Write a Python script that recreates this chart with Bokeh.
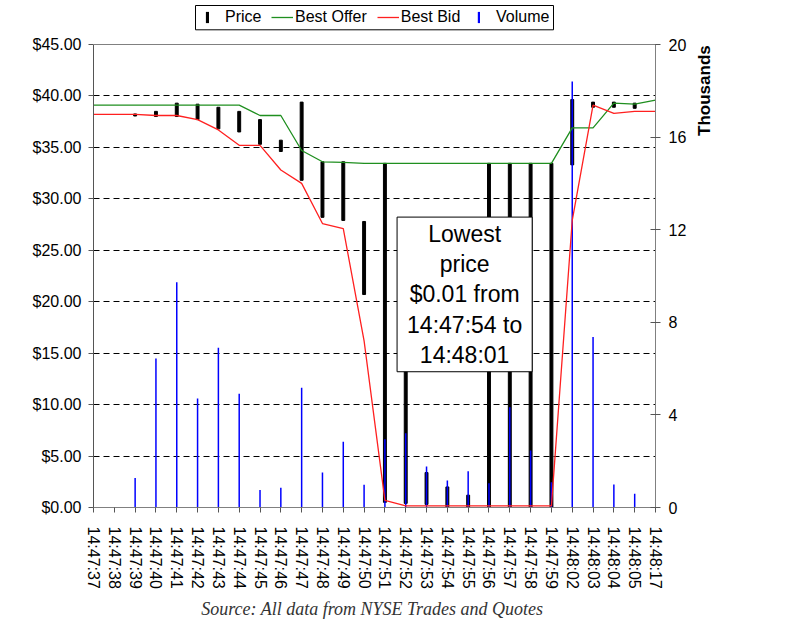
import math
import numpy as np
from bokeh.plotting import figure
from bokeh.models import (Range1d, LinearAxis, FixedTicker, NumeralTickFormatter, Label,
                          Legend, LegendItem, Title, ColumnDataSource, Span, BoxAnnotation)
from bokeh.embed import file_html
from bokeh.resources import INLINE

# ---- data ----
times = ["14:47:37", "14:47:38", "14:47:39", "14:47:40", "14:47:41", "14:47:42", "14:47:43",
         "14:47:44", "14:47:45", "14:47:46", "14:47:47", "14:47:48", "14:47:49", "14:47:50",
         "14:47:51", "14:47:52", "14:47:53", "14:47:54", "14:47:55", "14:47:56", "14:47:57",
         "14:47:58", "14:47:59", "14:48:02", "14:48:03", "14:48:04", "14:48:05", "14:48:17"]
price_high = [None, None, 38.25, 38.5, 39.3, 39.2, 38.9, 38.5, 37.7, 35.7, 39.4, 33.6, 33.6, 27.8,
              33.45, 20.0, 3.4, 2.0, 1.2, 33.45, 33.45, 33.45, 33.45, 39.65, 39.4, 39.4, 39.3, None]
price_low = [None, None, 38.05, 38.0, 38.0, 37.7, 36.8, 36.5, 35.3, 34.6, 31.8, 28.2, 27.9, 20.7,
             0.5, 0.4, 0.3, 0.01, 0.01, 0.01, 0.01, 0.01, 0.01, 33.3, 38.9, 38.9, 38.8, None]
best_offer = [39.1, 39.1, 39.1, 39.1, 39.1, 39.1, 39.1, 39.1, 38.1, 38.1, 34.7, 33.6, 33.55, 33.45,
              33.45, 33.45, 33.45, 33.45, 33.45, 33.45, 33.45, 33.45, 33.45, 36.9, 36.9, 39.3, 39.2, 39.6]
best_bid = [38.2, 38.2, 38.2, 38.1, 38.1, 37.7, 36.7, 35.2, 35.2, 32.8, 31.5, 27.6, 27.1, 16.2,
            0.7, 0.15, 0.15, 0.15, 0.15, 0.15, 0.15, 0.15, 0.15, 27.9, 39.1, 38.3, 38.5, 38.5]
volume_k = [None, None, 1.27, 6.44, 9.73, 4.71, 6.90, 4.91, 0.76, 0.85, 5.17, 1.51, 2.84, 0.98,
            2.95, 3.21, 1.77, 1.17, 1.57, 1.05, 4.33, 2.46, 1.09, 18.4, 7.36, 0.99, 0.59, None]
price_max = 45
volume_max = 20
price_ticks = [0, 5, 10, 15, 20, 25, 30, 35, 40, 45]
grid_ticks = [5, 10, 15, 20, 25, 30, 35, 40]
volume_ticks = [0, 4, 8, 12, 16, 20]
volume_caption = "Thousands"
note_text = "Lowest\nprice\n$0.01 from\n14:47:54 to\n14:48:01"
source_text = "Source:  All data from NYSE Trades and Quotes"

FONT = "Liberation Sans"
x = list(range(len(times)))

# layout (pixels): the frame reaches the top of the canvas so the legend can sit above $45
FRAME_TOP = 0
PLOT_TOP = 44
PLOT_BOTTOM = 507
FRAME_LEFT = 93
FRAME_RIGHT = 655
stretch = (PLOT_BOTTOM - FRAME_TOP) / (PLOT_BOTTOM - PLOT_TOP)
px_per_x = (FRAME_RIGHT - FRAME_LEFT) / (len(times) - 1)
px_per_price = (PLOT_BOTTOM - PLOT_TOP) / price_max


def px_to_x(px):
    return (px - FRAME_LEFT) / px_per_x


def py_to_price(py):
    return (PLOT_BOTTOM - py) / px_per_price


src = ColumnDataSource(dict(
    x=x,
    high=np.array(price_high, dtype=float),
    low=np.array(price_low, dtype=float),
    offer=np.array(best_offer, dtype=float),
    bid=np.array(best_bid, dtype=float),
    vol=np.array(volume_k, dtype=float),
    zero=[0.0] * len(x),
))

p = figure(width=800, height=628, output_backend="svg", toolbar_location=None,
           x_range=Range1d(0, len(times) - 1), y_range=Range1d(0, price_max * stretch),
           min_border_left=FRAME_LEFT, min_border_right=800 - FRAME_RIGHT,
           min_border_top=FRAME_TOP, min_border_bottom=628 - PLOT_BOTTOM)
p.extra_y_ranges = {"vol": Range1d(0, volume_max * stretch)}
p.background_fill_color = "white"
p.border_fill_color = "white"
p.outline_line_color = None

xaxis = p.below[0]
yaxis = p.left[0]

# grid
p.xgrid.visible = False
p.ygrid.ticker = FixedTicker(ticks=grid_ticks)
p.ygrid.grid_line_color = "black"
p.ygrid.grid_line_dash = "6 4"
p.ygrid.grid_line_width = 1

# top border of the plot area
p.add_layout(Span(location=price_max, dimension="width", line_color="#808080", line_width=1))

# left axis
yaxis.ticker = FixedTicker(ticks=price_ticks)
yaxis.bounds = (0, price_max)
yaxis.formatter = NumeralTickFormatter(format="$0.00")
yaxis.axis_line_color = "#555555"
yaxis.major_tick_line_color = "#555555"
yaxis.major_tick_in = 0
yaxis.major_tick_out = 5
yaxis.minor_tick_line_color = None
yaxis.major_label_text_font = FONT
yaxis.major_label_text_font_size = "16px"
yaxis.major_label_text_color = "black"
yaxis.major_label_standoff = 7

# right axis
raxis = LinearAxis(y_range_name="vol", ticker=FixedTicker(ticks=volume_ticks),
                   bounds=(0, volume_max))
raxis.axis_line_color = "#808080"
raxis.major_tick_line_color = "#555555"
raxis.major_tick_in = 5
raxis.major_tick_out = 5
raxis.minor_tick_line_color = None
raxis.major_label_text_font = FONT
raxis.major_label_text_font_size = "16px"
raxis.major_label_text_color = "black"
raxis.major_label_standoff = 8
p.add_layout(raxis, "right")

# caption for the volume axis; it starts at the middle of the axis and reads upwards,
# so non-breaking spaces push the word up towards the top of the axis
cap_axis = LinearAxis(y_range_name="vol", ticker=FixedTicker(ticks=[]),
                      axis_label="\u00a0" * 25 + volume_caption)
cap_axis.axis_line_color = None
cap_axis.major_tick_line_color = None
cap_axis.minor_tick_line_color = None
cap_axis.major_tick_out = 0
cap_axis.major_label_standoff = 0
cap_axis.axis_label_standoff = 15
cap_axis.axis_label_orientation = math.pi / 2
cap_axis.axis_label_text_font = FONT
cap_axis.axis_label_text_font_size = "17px"
cap_axis.axis_label_text_font_style = "bold"
cap_axis.axis_label_text_color = "black"
p.add_layout(cap_axis, "right")

# x axis
xaxis.ticker = FixedTicker(ticks=x)
xaxis.major_label_overrides = {i: t for i, t in zip(x, times)}
xaxis.major_label_orientation = "vertical"
xaxis.axis_line_color = "#808080"
xaxis.major_tick_line_color = "#555555"
xaxis.major_tick_in = 0
xaxis.major_tick_out = 5
xaxis.minor_tick_line_color = None
xaxis.major_label_text_font = FONT
xaxis.major_label_text_font_size = "16px"
xaxis.major_label_text_color = "black"
xaxis.major_label_standoff = 14

# glyphs
p.vbar(x="x", top="high", bottom="low", width=0.14, color="black", source=src)
p.segment(x0="x", y0="zero", x1="x", y1="vol", y_range_name="vol",
          line_color="#0000ff", line_width=1.5, source=src)
r_offer = p.line("x", "offer", line_color="#1f8f1f", line_width=1.3, source=src)
r_bid = p.line("x", "bid", line_color="#ff2020", line_width=1.3, source=src)

# legend-only keys (thin vertical bars)
r_price_key = p.vbar(x=[float("nan")], top=[float("nan")], width=0.1,
                     fill_color="black", line_color=None)
r_vol_key = p.vbar(x=[float("nan")], top=[float("nan")], width=0.1,
                   fill_color="#0000ff", line_color=None)

# ---- legend: one frame with three borderless legends inside ----
LEG_LEFT, LEG_RIGHT, LEG_TOP, LEG_BOTTOM = 195, 553, 5, 29.3
p.add_layout(BoxAnnotation(left=px_to_x(LEG_LEFT), right=px_to_x(LEG_RIGHT),
                           top=py_to_price(LEG_TOP), bottom=py_to_price(LEG_BOTTOM),
                           fill_color="white", fill_alpha=1, line_color="black",
                           line_width=1, line_alpha=1))
TEXT_MID = 17.3
ROW_H = 18
vy = PLOT_BOTTOM - (TEXT_MID + ROW_H / 2)


def make_legend(items, left_px, glyph_w, glyph_h, standoff):
    lg = Legend(items=items, orientation="horizontal", location=(left_px - FRAME_LEFT, vy))
    lg.glyph_width = glyph_w
    lg.glyph_height = glyph_h
    lg.label_height = 14
    lg.label_standoff = standoff
    lg.spacing = 10
    lg.padding = 0
    lg.margin = 0
    lg.border_line_color = None
    lg.background_fill_alpha = 0
    lg.label_text_font = FONT
    lg.label_text_font_size = "16px"
    lg.label_text_color = "black"
    lg.label_text_baseline = "middle"
    return lg


p.add_layout(make_legend([LegendItem(label="Price", renderers=[r_price_key])],
                         205, 4, 14, 16))
p.add_layout(make_legend([LegendItem(label="Best Offer", renderers=[r_offer]),
                          LegendItem(label="Best Bid", renderers=[r_bid])],
                         271, 22, ROW_H, 2))
p.add_layout(make_legend([LegendItem(label="Volume", renderers=[r_vol_key])],
                         477, 3, 14, 16))

# annotation box
note = Label(x=17.83, y=20.71, text=note_text, text_align="center", text_baseline="middle",
             text_font=FONT, text_font_size="23px", text_line_height=1.16, text_color="black",
             background_fill_color="white", border_line_color="black", border_line_width=1,
             padding=(10, 4))
p.add_layout(note)

# source line
p.add_layout(Title(text=source_text, align="center", text_font="Liberation Serif",
                   text_font_style="italic", text_font_size="18px", text_color="#333333"),
             "below")

open("out.html", "w").write(file_html(p, INLINE))
